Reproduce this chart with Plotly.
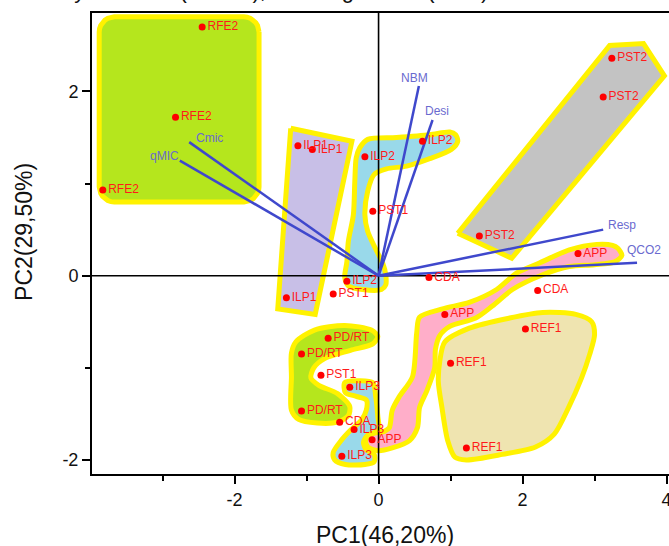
import numpy as np
import plotly.graph_objects as go

# ---------------- data ----------------
point_labels = ["RFE2", "RFE2", "RFE2", "ILP1", "ILP1", "ILP1", "ILP2", "ILP2", "ILP2",
                "PST1", "PST1", "PST1", "PST2", "PST2", "PST2", "APP", "APP", "APP",
                "CDA", "CDA", "CDA", "REF1", "REF1", "REF1", "PD/RT", "PD/RT", "PD/RT",
                "ILP3", "ILP3", "ILP3"]
pc1 = [-2.45, -2.82, -3.83, -1.12, -0.92, -1.28, -0.19, 0.61, -0.44,
       -0.08, -0.63, -0.80, 3.24, 3.12, 1.40, 2.77, 0.92, -0.09,
       0.70, 2.21, -0.54, 2.04, 1.00, 1.22, -0.70, -1.07, -1.07,
       -0.40, -0.34, -0.51]
pc2 = [2.70, 1.72, 0.93, 1.41, 1.37, -0.24, 1.29, 1.46, -0.06,
       0.70, -0.20, -1.08, 2.36, 1.94, 0.43, 0.24, -0.42, -1.78,
       -0.02, -0.16, -1.59, -0.58, -0.95, -1.87, -0.68, -0.85, -1.47,
       -1.21, -1.67, -1.96]

var_names = ["Cmic", "qMIC", "NBM", "Desi", "Resp", "QCO2"]
var_pc1 = [-2.63, -2.76, 0.56, 0.75, 3.12, 3.59]
var_pc2 = [1.45, 1.25, 2.06, 1.69, 0.50, 0.14]

x_ticks = [-2, 0, 2, 4]
x_ticklabels = ["-2", "0", "2", "4"]
y_ticks = [-2, 0, 2]
y_ticklabels = ["-2", "0", "2"]
x_title = "PC1(46,20%)"
y_title = "PC2(29,50%)"
title_text = "Pasture Followed by Rotation (PD/RT), and Sugarcane (CDA)"

# group outlines (data units)
rfe2_box = dict(x0=-3.88, x1=-1.66, y0=0.80, y1=2.81)
ilp1_x = [-1.22, -0.37, -0.88, -1.40]
ilp1_y = [1.60, 1.46, -0.42, -0.36]
pst2_x = [1.10, 3.21, 3.68, 3.97, 1.85]
pst2_y = [0.46, 2.50, 2.52, 2.17, 0.19]
ilp2_x = [-0.26, -0.15, 0.25, 0.71, 0.99, 1.07, 1.10, 1.01, 0.71, 0.39, 0.11, -0.06,
          -0.15, -0.19, -0.15, -0.04, 0.06, 0.10, 0.10, 0.04, -0.22, -0.42, -0.47,
          -0.44, -0.42, -0.35, -0.33, -0.31]
ilp2_y = [1.39, 1.48, 1.50, 1.53, 1.56, 1.53, 1.46, 1.37, 1.27, 1.19, 1.16, 1.10,
          0.92, 0.66, 0.48, 0.29, 0.13, 0.01, -0.10, -0.15, -0.15, -0.11, -0.02,
          0.15, 0.37, 0.66, 1.02, 1.28]
app_x = [3.32, 3.38, 3.28, 3.00, 2.65, 2.28, 1.86, 1.58, 1.35, 0.99, 0.85, 0.79, 0.78,
         0.67, 0.57, 0.54, 0.43, 0.19, -0.01, -0.15, -0.18, -0.10, 0.08, 0.15, 0.19,
         0.29, 0.47, 0.53, 0.57, 0.89, 1.26, 1.64, 1.92, 2.24, 2.65, 3.03, 3.25]
app_y = [0.30, 0.22, 0.15, 0.12, 0.10, 0.01, -0.15, -0.33, -0.46, -0.55, -0.65, -0.80,
         -1.00, -1.25, -1.43, -1.65, -1.79, -1.87, -1.90, -1.86, -1.78, -1.72, -1.69,
         -1.65, -1.46, -1.31, -1.10, -0.62, -0.45, -0.36, -0.29, -0.15, 0.03, 0.14,
         0.28, 0.34, 0.33]
ref1_x = [0.92, 1.26, 1.82, 2.28, 2.74, 2.96, 3.00, 2.93, 2.82, 2.64, 2.44, 2.18, 1.72,
          1.22, 1.06, 0.96, 0.88, 0.83, 0.85]
ref1_y = [-0.72, -0.57, -0.46, -0.40, -0.42, -0.50, -0.64, -0.86, -1.11, -1.43, -1.72,
          -1.86, -1.94, -2.00, -1.97, -1.79, -1.43, -1.15, -0.93]
pdrt_x = [-1.15, -0.89, -0.47, -0.10, -0.01, -0.08, -0.39, -0.75, -0.90, -0.94, -0.83,
          -0.57, -0.40, -0.42, -0.57, -0.85, -1.11, -1.21, -1.21, -1.21]
pdrt_y = [-0.72, -0.59, -0.54, -0.59, -0.66, -0.74, -0.81, -0.90, -1.00, -1.11, -1.19,
          -1.28, -1.42, -1.52, -1.59, -1.60, -1.56, -1.46, -1.10, -0.84]
ilp3_x = [-0.47, -0.29, -0.08, -0.04, -0.01, 0.00, -0.15, -0.21, -0.17, -0.06, -0.06,
          -0.19, -0.46, -0.61, -0.63, -0.51, -0.38, -0.24, -0.17, -0.17, -0.31, -0.46]
ilp3_y = [-1.16, -1.14, -1.16, -1.31, -1.53, -1.68, -1.73, -1.81, -1.89, -1.94, -2.02,
          -2.05, -2.05, -2.00, -1.92, -1.78, -1.67, -1.57, -1.46, -1.35, -1.31, -1.27]

# ---------------- style ----------------
X_RANGE = [-3.98, 4.034]
Y_RANGE = [-2.153, 2.852]
YELLOW = "#FFF200"
FONT = "Liberation Sans, Arial, sans-serif"


def closed(xs, ys):
    return list(xs) + [xs[0]], list(ys) + [ys[0]]


def rounded_rect(b, rx=0.21, ry=0.165, n=8):
    xs, ys = [], []
    corners = [(b["x1"] - rx, b["y1"] - ry, 0), (b["x0"] + rx, b["y1"] - ry, 90),
               (b["x0"] + rx, b["y0"] + ry, 180), (b["x1"] - rx, b["y0"] + ry, 270)]
    for cx, cy, a0 in corners:
        for t in np.linspace(np.radians(a0), np.radians(a0 + 90), n):
            xs.append(cx + rx * np.cos(t))
            ys.append(cy + ry * np.sin(t))
    return xs, ys


fig = go.Figure()

groups = [
    (rounded_rect(rfe2_box), "#B5E61D", "linear"),
    ((ilp1_x, ilp1_y), "#C8BFE7", "linear"),
    ((pst2_x, pst2_y), "#C3C3C3", "linear"),
    ((ilp2_x, ilp2_y), "#99D9EA", "spline"),
    ((app_x, app_y), "#FFAEC9", "spline"),
    ((ref1_x, ref1_y), "#EFE4B0", "spline"),
    ((pdrt_x, pdrt_y), "#B5E61D", "spline"),
    ((ilp3_x, ilp3_y), "#99D9EA", "spline"),
]
for (gx, gy), col, shape in groups:
    cx, cy = closed(gx, gy)
    fig.add_trace(go.Scatter(x=cx, y=cy, mode="lines", fill="toself", fillcolor=col,
                             line=dict(color=YELLOW, width=5, shape=shape, smoothing=0.8),
                             hoverinfo="skip", showlegend=False))

# zero lines (drawn over the filled groups)
fig.add_trace(go.Scatter(x=[0, 0], y=Y_RANGE, mode="lines",
                         line=dict(color="black", width=1.6), hoverinfo="skip", showlegend=False))
fig.add_trace(go.Scatter(x=X_RANGE, y=[0, 0], mode="lines",
                         line=dict(color="black", width=1.6), hoverinfo="skip", showlegend=False))

# loading vectors
for vx, vy in zip(var_pc1, var_pc2):
    fig.add_trace(go.Scatter(x=[0, vx], y=[0, vy], mode="lines",
                             line=dict(color="#3F48CC", width=2.5),
                             hoverinfo="skip", showlegend=False))

# scores
fig.add_trace(go.Scatter(x=pc1, y=pc2, mode="markers+text", text=point_labels,
                         textposition="middle right",
                         marker=dict(color="#FF0000", size=7),
                         textfont=dict(family=FONT, size=12, color="#FF1A1A"),
                         showlegend=False))

var_label_shift = [(20, 4), (-15, 5), (-4, 8), (4, 9), (19, 5), (7, 13)]
annotations = []
for name, vx, vy, (dx, dy) in zip(var_names, var_pc1, var_pc2, var_label_shift):
    annotations.append(dict(x=vx, y=vy, xref="x", yref="y", text=name, showarrow=False,
                            xshift=dx, yshift=dy,
                            font=dict(family=FONT, size=12, color="#6A6ACF")))

annotations += [
    dict(x=0.508, y=-0.132, xref="paper", yref="paper", text=x_title, showarrow=False,
         xanchor="center", yanchor="middle", font=dict(family=FONT, size=23, color="#111")),
    dict(x=-0.118, y=0.525, xref="paper", yref="paper", text=y_title, showarrow=False,
         textangle=-90, xanchor="center", yanchor="middle",
         font=dict(family=FONT, size=23, color="#111")),
    dict(x=0.69, y=1.0, xref="paper", yref="paper", text=title_text, showarrow=False,
         xanchor="right", yanchor="bottom", yshift=8,
         font=dict(family=FONT, size=22, color="#111")),
]

fig.update_layout(
    width=669, height=546,
    margin=dict(l=92, r=0, t=13, b=72, autoexpand=False),
    plot_bgcolor="white", paper_bgcolor="white",
    annotations=annotations,
    xaxis=dict(range=X_RANGE, tickvals=x_ticks, ticktext=x_ticklabels,
               showgrid=False, zeroline=False, ticklabeloverflow="allow",
               showline=True, linecolor="black", linewidth=2, mirror=True,
               ticks="outside", ticklen=8, tickwidth=2, tickcolor="black",
               minor=dict(dtick=1, tick0=0, ticks="outside", ticklen=5, tickwidth=1.5,
                          tickcolor="black", showgrid=False),
               tickfont=dict(family=FONT, size=18, color="#111")),
    yaxis=dict(range=Y_RANGE, tickvals=y_ticks, ticktext=y_ticklabels,
               showgrid=False, zeroline=False,
               showline=True, linecolor="black", linewidth=2, mirror=False,
               ticks="outside", ticklen=8, tickwidth=2, tickcolor="black",
               minor=dict(dtick=1, tick0=0, ticks="outside", ticklen=5, tickwidth=1.5,
                          tickcolor="black", showgrid=False),
               tickfont=dict(family=FONT, size=18, color="#111")),
)

fig.write_html("out.html", config={"displayModeBar": False},
               post_script="document.body.style.margin='0';document.body.style.overflow='hidden';")
